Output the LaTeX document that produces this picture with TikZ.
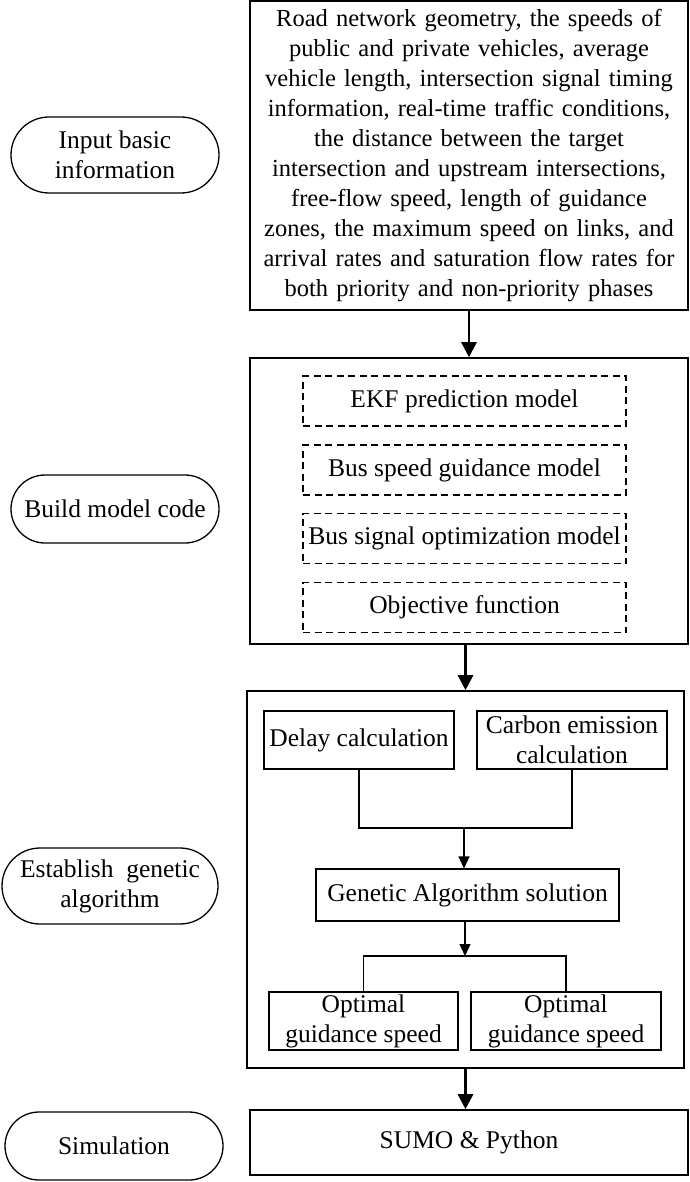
\documentclass[tikz,border=0pt]{standalone}
\usepackage{fontspec}
\setmainfont{Liberation Serif}
\usetikzlibrary{arrows.meta,shapes.misc}

\begin{document}
\begin{tikzpicture}[x=1pt, y=-1pt,
	every node/.style = {align=center, inner sep=0pt,
	font=\fontsize{25.5}{30}\selectfont},
	bigbox/.style = {draw, line width=1.6pt, minimum width=438pt},
	smallbox/.style = {draw, line width=1.1pt, minimum width=190pt, minimum height=58pt},
	dashbox/.style = {draw, dash pattern=on 7pt off 4.5pt, line width=1.1pt,
	minimum width=323pt, minimum height=50pt},
	stadium/.style = {draw, rounded rectangle, line width=1.3pt, minimum width=208pt},
	bigarrow/.style = {line width=2.6pt, -{Triangle[length=15pt,width=15pt]}},
	smallarrow/.style = {line width=1.3pt, -{Triangle[length=12pt,width=11pt]}},
	link/.style = {line width=1.3pt}]

	\useasboundingbox (0,0) rectangle (689,1182);

	% left column
	\node[stadium, minimum height=76pt] (inputlbl) at (115,155) {Input basic\\information};
	\node[stadium, minimum height=68pt] (modellbl) at (115,509) {Build model code};
	\node[stadium, minimum height=76pt, minimum width=216pt] (galbl) at (110,886)
	{Establish\ \ genetic\\algorithm};
	\node[stadium, minimum height=68pt, minimum width=218pt] (simlbl) at (114,1146) {Simulation};

	% right column
	\node[bigbox, minimum height=309pt, text width=434pt,
	font=\fontsize{24.5}{30}\selectfont] (input) at (469,155.5)
	{Road network geometry, the speeds of\\ public and private vehicles, average\\
	vehicle length, intersection signal timing\\ information, real-time traffic conditions,\\
	the distance between the target\\ intersection and upstream intersections,\\
	free-flow speed, length of guidance\\ zones, the maximum speed on links, and\\
	arrival rates and saturation flow rates for\\ both priority and non-priority phases};

	\node[bigbox, minimum height=286pt] (model) at (469,501) {};
	\node[dashbox] (ekf) at (464.5,401) {EKF prediction model};
	\node[dashbox] (guide) at (464.5,470) {Bus speed guidance model};
	\node[dashbox] (signal) at (464.5,538.5) {Bus signal optimization model};
	\node[dashbox] (objective) at (464.5,607.5) {Objective function};

	\node[bigbox, minimum width=437pt, minimum height=377pt] (algo) at (465.5,879.5) {};
	\node[smallbox] (delay) at (359,740) {Delay calculation};
	\node[smallbox] (carbon) at (572,740) {Carbon emission\\calculation};
	\node[smallbox, minimum width=303pt, minimum height=52pt] (gasol) at (467.5,895) {Genetic Algorithm solution};
	\node[smallbox, minimum width=189pt] (optleft) at (363.5,1021) {Optimal\\guidance speed};
	\node[smallbox] (optright) at (566,1021) {Optimal\\guidance speed};

	\node[bigbox, minimum height=65pt] (sumo) at (469,1142.5) {SUMO \& Python};

	% connectors
	\draw[bigarrow] (input.south) -- (model.north);
	\draw[bigarrow] (model.south -| algo.north) -- (algo.north);
	\draw[bigarrow] (algo.south) -- (algo.south |- sumo.north);

	\coordinate (join) at (464,828);
	\coordinate (split) at (465,956);
	\draw[link] (delay.south) |- (join) -| (carbon.south);
	\draw[smallarrow] (join) -- (join |- gasol.north);
	\draw[smallarrow] (split |- gasol.south) -- (split);
	\draw[link] (optleft.north) |- (split) -| (optright.north);
\end{tikzpicture}
\end{document}
